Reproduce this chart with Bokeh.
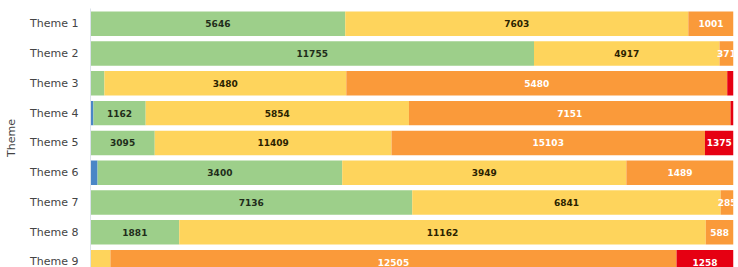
import numpy as np
from bokeh.plotting import figure
from bokeh.models import ColumnDataSource, Range1d, FixedTicker
from bokeh.core.properties import value
from bokeh.embed import file_html
from bokeh.resources import INLINE

# ---- data ----
themes = ["Theme 1", "Theme 2", "Theme 3", "Theme 4", "Theme 5",
          "Theme 6", "Theme 7", "Theme 8", "Theme 9"]
series_names = ["blue", "green", "yellow", "orange", "red"]
blue   = [0,     0,     0,    65,    0,     98,   0,    0,     0]
green  = [5646, 11755,  200,  1162,  3095,  3400, 7136, 1881,  0]
yellow = [7603,  4917, 3480,  5854, 11409,  3949, 6841, 11162, 440]
orange = [1001,   371, 5480,  7151, 15103,  1489,  285,  588, 12505]
red    = [0,        0,   90,    65,  1375,     0,    0,    0,  1258]

colors = ["#4a86c6", "#9dcf8a", "#fed45c", "#fa9a3a", "#e60012"]
text_colors = ["#ffffff", "#1f2d1a", "#2b2200", "#ffffff", "#ffffff"]

vals = np.array([blue, green, yellow, orange, red], dtype=float)
totals = vals.sum(axis=0)
fracs = vals / totals

ypos = list(range(len(themes)))
data = {"y": ypos}
for name, f in zip(series_names, fracs):
    data[name] = list(f)
src = ColumnDataSource(data)

p = figure(width=738, height=267, output_backend="svg", toolbar_location=None,
           x_range=Range1d(0, 1), y_range=Range1d(8.18, -0.51),
           min_border_left=90, min_border_right=5, min_border_top=8,
           min_border_bottom=0)

p.hbar_stack(series_names, y="y", height=0.82, color=colors, source=src,
             line_color=None)

# segment labels (small inner segments are left unlabeled)
lx, ly, lt, lc = [], [], [], []
cum = np.zeros(len(themes))
for k in range(len(series_names)):
    for i in range(len(themes)):
        f = fracs[k, i]
        is_last = not np.any(vals[k + 1:, i] > 0)
        if f >= 0.04 or (is_last and f >= 0.019):
            lx.append(cum[i] + f / 2)
            ly.append(i)
            lt.append(str(int(vals[k, i])))
            lc.append(text_colors[k])
    cum = cum + fracs[k]
lsrc = ColumnDataSource(dict(x=lx, y=ly, t=lt, c=lc))
p.text(x="x", y="y", text="t", text_color="c", source=lsrc,
       text_align="center", text_baseline="middle",
       text_font=value("DejaVu Sans"), text_font_size="9px",
       text_font_style="bold")

p.xaxis.visible = False
p.xgrid.visible = False
p.ygrid.visible = False
p.outline_line_color = None

ax = p.yaxis[0]
ax.ticker = FixedTicker(ticks=ypos)
ax.major_label_overrides = {i: t for i, t in enumerate(themes)}
ax.major_tick_line_color = None
ax.minor_tick_line_color = None
ax.axis_line_color = "#dbe2ea"
ax.major_label_standoff = 6
ax.major_label_text_font = "DejaVu Sans"
ax.major_label_text_font_size = "11px"
ax.major_label_text_color = "#444444"
ax.axis_label = "Theme"
ax.axis_label_text_font = "DejaVu Sans"
ax.axis_label_text_font_size = "11px"
ax.axis_label_text_font_style = "normal"
ax.axis_label_text_color = "#444444"
ax.axis_label_standoff = 9

open("out.html", "w").write(file_html(p, INLINE))
